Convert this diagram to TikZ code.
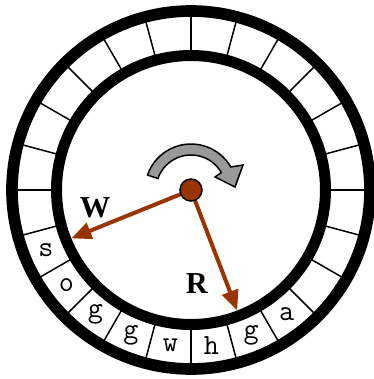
\documentclass[tikz,border=0pt]{standalone}
\usepackage{fontspec}
\setmainfont{Liberation Serif}
\usetikzlibrary{arrows.meta}
\definecolor{rust}{RGB}{153,51,0}
\begin{document}
\begin{tikzpicture}[
    x=0.03cm, y=0.03cm,
    ring/.style={draw=black, line width=0.35cm},
    spoke/.style={draw=black, line width=0.045cm},
    cell/.style={font=\fontsize{25}{25}\selectfont\ttfamily, inner sep=0pt},
    hub/.style={circle, draw=black, line width=0.045cm, fill=rust, minimum size=0.66cm, inner sep=0pt},
    ptr/.style={-{Triangle[length=0.6cm, width=0.5cm]}, line width=0.12cm, rust},
    tag/.style={font=\fontsize{26}{26}\selectfont\bfseries},
    turn/.style={draw=black, line width=0.045cm, fill=black!40, line join=miter},
]
\useasboundingbox (-191,-189) rectangle (183,190);

% buffer ring
\foreach \a in {0,15,...,345}
  \draw[spoke] (\a:134) -- (\a:179);
\draw[ring] (0,0) circle[radius=179];
\draw[ring, line width=0.33cm] (0,0) circle[radius=134.5];

% stored items
\foreach \ch/\a [count=\i] in {s/202.5, o/217.5, g/232.5, g/247.5, w/262.5, h/277.5, g/292.5, a/307.5}
  \node[cell] (c\i) at (\a:157) {\ch};

% rotation sense
\draw[turn] (161:46) arc[start angle=161, end angle=30, radius=46] -- (52,25) -- (44,3)
  -- (24,13) -- (30:35) arc[start angle=30, end angle=161, radius=35] -- cycle;

% pointers
\coordinate (pivot) at (0,0);
\coordinate (wtip) at (202:129);
\coordinate (rtip) at (291:129);
\draw[ptr] (pivot) -- (wtip);
\draw[ptr] (pivot) -- (rtip);
\node[hub] (hub) at (pivot) {};
\node[tag] (W) at (-96,-18) {W};
\node[tag] (R) at (6,-94) {R};
\end{tikzpicture}
\end{document}
